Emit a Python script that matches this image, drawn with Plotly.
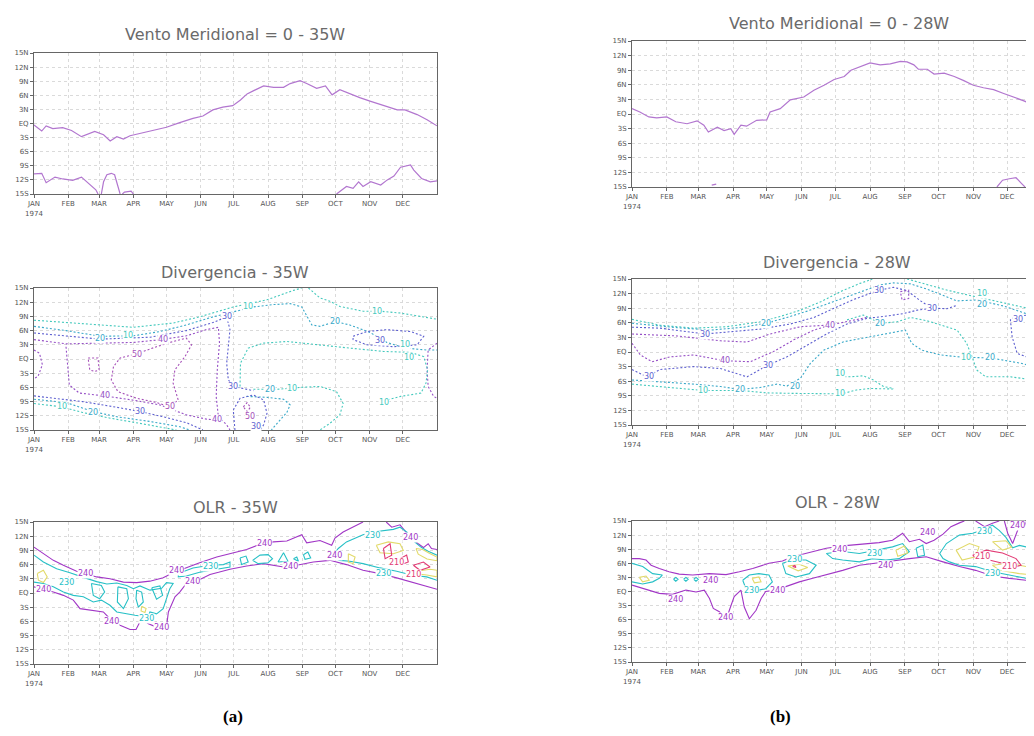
import plotly.graph_objects as go

# ---------------- axes / text data ----------------
MONTH_START = [0, 31, 59, 90, 120, 151, 181, 212, 243, 273, 304, 334]
MONTH_TEXT = ["JAN<br>1974", "FEB", "MAR", "APR", "MAY", "JUN", "JUL", "AUG", "SEP", "OCT", "NOV", "DEC"]
LAT_TICKS = [15, 12, 9, 6, 3, 0, -3, -6, -9, -12, -15]
LAT_TEXT = ["15N", "12N", "9N", "6N", "3N", "EQ", "3S", "6S", "9S", "12S", "15S"]
TITLES = ["Vento Meridional = 0 - 35W", "Divergencia - 35W", "OLR - 35W",
          "Vento Meridional = 0 - 28W", "Divergencia - 28W", "OLR - 28W"]
PANEL_TAGS = ["(a)", "(b)"]

# ---------------- meridional wind = 0 line (day of year, latitude) ----------------
VM35_LINES = [
    [(0, -0.3), (7, -1.6), (11, -0.5), (17, -1.1), (26, -0.9), (34, -1.5), (43, -2.8), (55, -1.7), (63, -2.4),
     (69, -3.7), (75, -2.8), (81, -3.3), (87, -2.6), (96, -2.1), (108, -1.4), (120, -0.8), (132, 0.2), (144, 1.1),
     (153, 1.6), (162, 2.9), (171, 3.5), (180, 3.8), (187, 5.0), (193, 6.3), (199, 7.0), (208, 8.0), (217, 7.7),
     (226, 7.7), (232, 8.5), (241, 9.1), (247, 8.5), (256, 7.5), (264, 8.0), (270, 6.1), (277, 7.2), (286, 6.3),
     (295, 5.5), (305, 4.7), (317, 3.8), (329, 2.9), (336, 2.9), (347, 1.9), (356, 0.8), (365, -0.5)],
    [(0, -10.7), (7, -10.6), (11, -12.6), (19, -11.4), (26, -11.8), (35, -12.1), (43, -11.4), (51, -13.1),
     (56, -14.1), (58, -15)],
    [(61, -15), (63, -12.4), (66, -10.9), (70, -10.6), (73, -10.9), (76, -13.3), (78, -15)],
    [(80, -15), (82, -14.6), (88, -14.4), (90, -15)],
    [(274, -15), (283, -13.4), (289, -13.8), (294, -12.4), (298, -13.4), (305, -12.4), (314, -13.1), (320, -12.0),
     (326, -11.2), (332, -9.3), (341, -8.8), (344, -9.9), (351, -11.7), (359, -12.4), (365, -12.2)],
]
VM28_LINES = [
    [(0, 1.1), (7, 0.4), (15, -0.6), (22, -0.8), (31, -0.6), (39, -1.6), (49, -2.0), (58, -1.4), (64, -2.3),
     (68, -3.7), (76, -2.7), (82, -3.4), (88, -3.0), (91, -4.2), (97, -2.3), (102, -2.5), (111, -1.3), (120, -1.2),
     (123, 0.4), (132, 1.1), (141, 2.9), (153, 3.5), (162, 4.9), (171, 5.9), (180, 7.1), (189, 7.7), (195, 9.0),
     (203, 9.7), (212, 10.5), (221, 10.1), (230, 10.3), (239, 10.8), (245, 10.7), (251, 10.1), (255, 9.2),
     (263, 9.2), (269, 8.2), (278, 8.4), (287, 7.7), (295, 6.9), (304, 5.9), (313, 5.4), (322, 5.0), (331, 4.2),
     (340, 3.5), (349, 2.7), (358, 1.8)],
    [(325, -15), (330, -13.6), (336, -13.3), (342, -13.1), (347, -14.3), (350, -15)],
    [(71, -14.6), (75, -14.4)],
]

# ---------------- divergence contours (level, path) ----------------
DIV35_LINES = [
    (10, [(0, 8.2), (44, 7.4), (90, 6.7), (126, 7.6), (150, 8.9), (180.5, 11.0), (211, 12.5), (235, 14.5), (242.5, 15)]),
    (10, [(248.6, 15), (259, 12.9), (268, 12.2), (277, 11.1), (298, 10.1), (313.6, 10.1), (332, 9.7), (350, 9.0), (365, 8.4)]),
    (20, [(0, 6.9), (29, 6.0), (60, 4.8), (90, 4.9), (114, 5.8), (138, 7.2), (162, 8.9), (186.6, 10.4), (198.7, 11.0),
          (217, 11.5), (232, 11.7), (242.5, 11.0), (247, 9.0), (251.6, 7.2), (259, 6.9), (273, 7.9), (286, 7.2),
          (304.5, 5.6), (319.6, 3.5), (336, 2.3), (356, 1.9), (365, 1.9)]),
    (30, [(289, 4.8), (301.5, 5.8), (319.6, 6.2), (341, 5.8), (353, 4.8), (347, 3.0), (325.7, 2.6), (301.5, 3.0),
          (289, 4.1), (289, 4.8)]),
    (40, [(365, 3.35), (357, 1.9), (356, -2.3), (357, -5.8), (362, -7.9), (365, -8.3)]),
    (10, [(186.6, -5.8), (187, -0.9), (194, 2.3), (208, 3.35), (229, 3.7), (256, 3.0), (286, 2.3), (316.6, 1.6),
          (341, 1.4), (353, 0.5), (356.5, -2.3), (355, -5.1), (350.5, -7.2), (332, -7.9), (313.6, -9.0)]),
    (10, [(198.7, -6.4), (220, -6.4), (241, -6.0), (259, -5.8), (274, -6.9), (280, -9.4), (277, -11.8), (268, -13.6), (259, -15)]),
    (20, [(192.6, -7.9), (211, -8.1), (226, -8.5), (232, -9.7), (229, -11.3), (223, -12.9), (215, -15)]),
    (30, [(0, 5.5), (29, 4.8), (60, 4.2), (105, 4.6), (138, 6.0), (162, 7.7), (174.5, 8.9), (177.5, 6.2), (176, 2.6),
          (174.5, -0.9), (176, -4.4), (180.5, -5.8), (198.7, -6.7)]),
    (40, [(0, 4.1), (29, 3.2), (60, 3.35), (90, 3.5), (115.5, 4.1), (138, 4.9), (156, 6.2), (167, 6.7), (168, 3.35),
          (166, -2.3), (165, -7.9), (167, -12.2), (174.5, -13.9), (177.5, -15)]),
    (40, [(29, 2.6), (31, -2.3), (32, -5.5), (41, -7.2), (64, -7.8), (90, -8.7), (114, -9.7), (138, -11.8), (156, -12.7), (165, -12.9)]),
    (50, [(93, 1.1), (78, 0.2), (72, -1.6), (70, -4.4), (76, -6.9), (93, -8.3), (111, -9.2), (123, -10.1), (130.6, -8.65),
          (126, -5.1), (127.6, -2.3), (136.7, 0.5), (142.7, 3.0), (138, 4.4), (126, 3.7), (111, 2.6), (93, 1.1)]),
    (50, [(49, 0.2), (58, 0.2), (59, -2.3), (55, -2.65), (50.5, -2.3), (49, 0.2)]),
    (40, [(0, 1.9), (5, 1.2), (7.6, -1.2), (3.6, -3.7), (0, -4.1)]),
    (10, [(0, -9.4), (25, -10.1), (44, -11.3), (69, -12.5), (96, -13.6), (120, -14.65), (129, -15)]),
    (20, [(0, -8.5), (29, -9.2), (53.5, -11.1), (75, -12.2), (105, -13.2), (132, -14.3), (141, -15)]),
    (30, [(0, -7.8), (44, -9.0), (75, -10.2), (96, -11.1), (117, -12.2), (138, -13.45), (153, -15)]),
    (30, [(182, -15), (180.5, -10.8), (186.6, -8.3), (198.7, -7.6), (208, -8.65), (211, -11.5), (208, -13.9), (205, -15)]),
    (50, [(189.6, -10.1), (193, -9.2), (196, -10.2), (193, -11.1), (189.6, -10.1)]),
]
DIV35_LABELS = [(85, 4.9, 10), (60, 4.4, 20), (117, 4.1, 40), (93, 0.9, 50), (174.5, 8.9, 30), (194, 11.0, 10),
                (273, 7.9, 20), (310.6, 10.1, 10), (313.6, 3.85, 30), (336, 3.0, 10), (340, 0.4, 10),
                (180, -5.8, 30), (214, -6.4, 20), (233.5, -6.2, 10), (316.6, -9.1, 10), (64, -7.8, 40),
                (123, -10.1, 50), (166, -12.75, 40), (96, -11.1, 30), (53.5, -11.3, 20), (25, -10.1, 10),
                (196, -12.1, 50), (201, -14.3, 30)]

DIV28_LINES = [
    (10, [(0, 6.7), (25, 5.5), (55, 4.9), (84.6, 5.2), (114, 6.2), (132, 7.3), (150, 8.6), (168, 10.3), (185.6, 12.4),
          (203, 14.1), (212, 14.8), (214, 15)]),
    (10, [(245, 15), (263, 13.8), (277.6, 12.9), (292.5, 12.05), (311.8, 11.0), (331, 10.1), (352, 9.0), (358, 8.6)]),
    (20, [(0, 5.9), (40, 5.0), (70, 4.5), (99.5, 5.1), (119, 5.9), (138, 7.1), (156, 8.4), (174, 9.9), (191.5, 11.5),
          (209, 12.9), (221, 13.8), (233, 14.2), (248, 14.0), (263, 12.9), (277.6, 11.5), (289.5, 10.5), (307, 10.7),
          (331, 9.45), (352, 7.8), (358, 7.1)]),
    (30, [(0, 5.1), (25, 4.9), (65, 3.7), (90.6, 4.2), (114, 4.7), (141, 5.75), (162, 7.1), (180, 9.0), (197.5, 10.8),
          (220, 12.7), (233, 13.3), (245, 12.6), (257, 10.5), (267, 9.0), (280.6, 8.9), (289.5, 9.6)]),
    (30, [(0, -3.6), (13.4, -5.1), (25, -3.6), (55, -3.0), (78.7, -3.4), (102.4, -5.1), (111, -4.0), (121, -2.7),
          (138, -1.0), (156, 1.4), (174, 3.8), (191.5, 5.75), (209, 6.9), (227, 7.4), (242, 7.9), (254, 8.6), (267, 9.0)]),
    (40, [(0, 3.7), (40, 3.3), (78.7, 2.3), (102.4, 2.05), (123, 3.7), (150, 5.2), (176.7, 5.55), (194.5, 6.4), (209, 7.1)]),
    (40, [(0, 1.8), (7.4, -0.6), (17.8, -2.0), (34, -1.0), (55, -0.6), (82.5, -1.8), (105.4, -2.0), (126, 0.1),
          (144, 2.5), (162, 4.5), (176.7, 5.55)]),
    (40, [(239, 12.4), (246.4, 12.7), (246.4, 11.0), (240.5, 10.7), (239, 12.4)]),
    (30, [(358, 7.4), (352, 7.6), (340, 7.1), (337, 6.6), (338.5, 3.15), (343, -0.3), (355, -1.3), (358, -1.5)]),
    (40, [(358, 3.3), (354, 2.5), (355, 1.2), (358, 1.0)]),
    (20, [(0, -5.75), (25, -6.1), (55, -6.6), (79, -7.1), (96, -7.7), (114, -7.3), (129, -6.6), (138, -7.0), (150, -5.4),
          (159, -2.3), (171, 0.4), (188.5, 2.1), (212, 3.15), (236, 4.2), (243.5, 4.5), (249, 1.8), (258, 0.4),
          (274.6, -0.6), (295.4, -1.1), (319, -1.2), (346, -2.3), (358, -3.0)]),
    (10, [(191.5, 6.6), (206, 7.6), (221, 5.9), (236, 6.2), (248, 7.1), (263, 6.4), (289.5, 4.5), (298, 1.8),
          (303, -1.1), (307, -3.7), (315, -5.1), (337, -5.1), (358, -5.75)]),
    (10, [(185.6, -5.1), (194.5, -5.1), (206, -4.9), (215, -5.75), (224, -7.1), (233, -7.5)]),
    (10, [(188.5, -8.5), (200, -7.8), (212, -7.5), (227, -7.6), (233, -7.6)]),
    (10, [(0, -6.6), (25, -7.1), (63, -7.9), (96.5, -7.9), (120, -8.4), (144, -8.5), (168, -8.6), (185.6, -8.6)]),
]
DIV28_LABELS = [(65, 3.5, 30), (119, 5.9, 20), (176.7, 5.5, 40), (82.5, -1.8, 40), (121, -2.7, 30), (15, -5.1, 30),
                (63, -7.9, 10), (96, -7.8, 20), (145, -7.0, 20), (185.6, -4.4, 10), (185.6, -8.5, 10),
                (220, 12.7, 30), (267, 9.0, 30), (311.8, 12.0, 10), (311.8, 9.7, 20), (344, 6.6, 30),
                (221, 5.9, 20), (297, -1.1, 10), (319, -1.1, 20)]

# ---------------- OLR contours (level, path) ----------------
OLR35_LINES = [
    (240, [(0, 9.7), (8.5, 8.3), (17.5, 6.9), (26.6, 5.85), (38.6, 4.6), (56.8, 3.4), (68.8, 3.0), (81, 2.3), (93, 2.2),
           (105, 2.5), (117, 3.2), (126, 4.3), (135, 5.1), (150, 6.4), (165.5, 7.6), (177.5, 8.3), (192.6, 9.2),
           (204.7, 10.3), (216.8, 10.8), (229, 11.0), (238, 11.8), (242.5, 12.3), (247, 10.6), (259, 11.1),
           (269.6, 10.1), (272.6, 11.6), (280, 12.9), (289, 13.9), (298, 15)]),
    (240, [(319, 15), (324, 13.9), (331.5, 14.4), (340.6, 11.8), (348, 10.4), (352.7, 9.6), (357, 10.4), (360, 9.4), (365, 9.2)]),
    (240, [(0, 1.3), (8.5, 0.8), (17.5, 0.2), (26.6, -0.5), (35.6, -1.5), (41.7, -3.3), (50.7, -3.65), (62.8, -4.0),
           (70.3, -5.8), (77.9, -6.8), (87, -7.7), (92.4, -7.7), (97.5, -5.4), (103.6, -6.5), (111, -7.2), (120, -7.2),
           (121.7, -4.0), (124.7, -2.25), (127.7, -0.8), (132, 0.2), (138, 2.0), (147, 2.5), (159.4, 3.9), (177.5, 5.0),
           (192.6, 5.7), (207.7, 6.2), (226, 5.5), (238, 5.85), (253, 6.55), (268, 6.9), (283, 6.0), (298, 4.8),
           (313.4, 4.1), (328.5, 3.2), (343.6, 2.2), (358.7, 1.1), (365, 0.8)]),
    (230, [(0, 8.0), (8.5, 6.55), (20.5, 5.1), (32.6, 4.3), (44.7, 3.3), (56.8, 2.4), (66, 1.9), (75, 2.1), (84, 1.6),
           (90, 0.9), (96, 1.5), (105, 0.6), (115.6, 1.0), (120, 2.2), (126, 2.0), (123, 0.9), (120, -1.2), (117, -3.3),
           (111, -4.4), (105, -4.0), (102, -5.8), (97.5, -4.9), (91.5, -4.7), (84, -4.4), (75, -4.0), (68.8, -2.6),
           (61, -1.5), (53.7, -1.9), (44.7, -0.8), (35.6, -0.5), (26.6, 0.2), (17.5, 1.3), (8.5, 2.0), (0, 2.3)]),
    (230, [(52, 2.0), (61, 1.6), (64, 0.2), (59.5, -1.2), (53.7, -0.5), (52, 2.0)]),
    (230, [(76, 1.3), (84, 0.9), (85.5, -1.2), (81, -3.3), (75.5, -1.9), (76, 1.3)]),
    (230, [(93, 0.6), (97.5, 0.2), (99, -1.9), (94.5, -3.0), (92.4, -1.2), (93, 0.6)]),
    (230, [(106.6, 1.1), (114, 1.5), (116.5, -0.5), (111, -1.3), (106.6, 1.1)]),
    (230, [(130.7, 4.1), (144, 5.3), (159.4, 5.85), (171.5, 6.0), (177.5, 6.55), (177.5, 5.5), (165.5, 5.0), (150, 4.4),
           (138, 3.6), (130.7, 3.4), (130.7, 4.1)]),
    (230, [(186.6, 7.4), (192, 7.8), (194, 6.55), (188, 6.0), (186.6, 7.4)]),
    (230, [(198, 6.9), (204.7, 8.0), (212, 8.1), (216, 7.25), (212, 6.4), (203, 6.2), (198, 6.9)]),
    (230, [(221, 6.55), (226, 8.5), (230, 6.7), (221, 6.55)]),
    (230, [(235, 7.25), (238, 7.6), (239.5, 6.7), (235, 7.25)]),
    (230, [(244, 8.1), (248, 8.65), (250.6, 7.4), (245.5, 7.1), (244, 8.1)]),
    (230, [(365, 2.7), (355.7, 3.4), (343.6, 3.7), (328.5, 4.6), (313.4, 5.3), (298, 6.2), (286, 6.7), (277, 6.9),
           (269.6, 7.6), (275.6, 9.4), (283, 10.8), (292, 11.8), (298, 12.3), (307, 12.9), (316, 13.2), (325.5, 13.45),
           (331.5, 13.9), (338, 12.8), (343.6, 11.0), (351, 9.6), (357, 8.8), (365, 8.0)]),
    (220, [(3, 4.1), (8.5, 4.8), (12, 3.4), (8.5, 2.2), (4, 2.7), (3, 4.1)]),
    (220, [(97.5, -2.8), (101.5, -3.3), (100.5, -4.1), (97, -3.8), (97.5, -2.8)]),
    (220, [(284.7, 8.3), (290.8, 7.6), (289, 6.2), (284.7, 6.55), (284.7, 8.3)]),
    (220, [(310, 10.1), (320.9, 10.8), (331.5, 10.4), (334.5, 9.0), (325.5, 8.3), (313.4, 8.5), (310, 10.1)]),
    (220, [(346, 9.4), (352, 9.2), (358, 8.4), (365, 7.6), (365, 6.8), (356, 7.2), (348, 8.2), (346, 9.4)]),
    (220, [(346.6, 4.6), (358.7, 5.0), (365, 4.8), (365, 3.4), (355.7, 3.8), (348, 4.0), (346.6, 4.6)]),
    (210, [(316.5, 9.4), (322.5, 10.4), (324, 8.0), (318, 7.25), (316.5, 9.4)]),
    (210, [(331.5, 7.25), (337.5, 8.0), (339, 6.55), (333, 6.0), (331.5, 7.25)]),
    (210, [(343.6, 5.85), (352.7, 6.55), (358.7, 5.5), (349.6, 4.8), (343.6, 5.85)]),
]
OLR35_LABELS = [(47, 4.2, 240), (8.5, 0.8, 240), (70.3, -6.0, 240), (115.6, -7.2, 240), (29.6, 2.3, 230),
                (102, -5.4, 230), (144, 2.4, 240), (129, 4.8, 240), (159.4, 5.5, 230), (209, 10.5, 240),
                (232, 5.6, 240), (272.6, 8.0, 240), (307, 12.2, 230), (340.6, 11.8, 240), (328.5, 6.55, 210),
                (316.5, 4.1, 230), (343.6, 3.9, 210)]

OLR28_LINES = [
    (240, [(0, 7.0), (6.5, 7.0), (12.5, 6.7), (17, 5.6), (24.3, 4.9), (33, 4.2), (42, 3.7), (54, 3.5), (69, 3.8),
           (83.7, 3.6), (95.6, 4.2), (107.5, 4.9), (122, 6.0), (134, 6.5), (143, 7.4), (161, 8.5), (173, 9.2),
           (187.6, 9.7), (202.5, 10.0), (220, 10.4), (232, 10.9), (241, 12.4), (247, 10.6), (256, 11.1), (262, 10.2),
           (269, 10.9), (277, 12.2), (284, 13.8), (291.6, 14.6), (296, 15)]),
    (240, [(306, 15), (314, 13.8), (321, 14.5), (327, 15)]),
    (240, [(331.6, 15), (334.6, 12.4), (339, 10.2), (343.5, 13.1), (346.5, 15)]),
    (240, [(349.5, 15), (352.5, 13.4), (358, 12.4)]),
    (240, [(0, 1.35), (6.5, 0.85), (15.4, 0.3), (24.3, -0.4), (36, -0.6), (48, 0.3), (57, -0.1), (64.4, 0.3), (69, -1.5),
           (72.4, -3.6), (77.8, -4.3), (83.7, -6.1), (86.7, -4.0), (91, -1.1), (97, 0.3), (100, -3.3), (104.5, -5.8),
           (110.5, -4.0), (115, -1.5), (119, 0.0), (128, 0.3), (137, 1.0), (149, 2.05), (161, 2.8), (173, 3.5),
           (187.6, 4.5), (202.5, 5.6), (217, 6.0), (232, 6.5), (247, 7.0), (262, 7.4), (277, 6.3), (291.6, 5.3),
           (306, 4.5), (321, 3.3), (336, 2.8), (351, 2.4), (358, 1.35)]),
    (230, [(0, 6.0), (9.5, 5.3), (18.4, 3.8), (27, 3.5), (24.3, 2.8), (18.4, 2.05), (9.5, 1.6), (0, 2.05)]),
    (230, [(37, 2.6), (39, 3.0), (41, 2.6), (39, 2.2), (37, 2.6)]),
    (230, [(46, 2.6), (48, 3.0), (50, 2.6), (48, 2.2), (46, 2.6)]),
    (230, [(55, 2.6), (57, 3.0), (59, 2.6), (57, 2.2), (55, 2.6)]),
    (230, [(98.6, 2.4), (104.5, 3.5), (113, 3.8), (122, 3.5), (125, 2.05), (119, 0.6), (113, 0.3), (106, -0.1),
           (101.5, 0.6), (98.6, 2.4)]),
    (230, [(134, 6.0), (143, 6.7), (155, 6.7), (164, 5.6), (158, 3.8), (146, 3.1), (137, 3.8), (134, 6.0)]),
    (230, [(173, 8.1), (187.6, 8.5), (202.5, 8.1), (217, 8.8), (232, 9.5), (241, 10.2), (247, 8.5), (238, 7.0),
           (226, 6.7), (214, 7.0), (202.5, 6.3), (187.6, 6.7), (178.7, 7.0), (173, 8.1)]),
    (230, [(253, 9.2), (259, 9.9), (260.5, 7.7), (254.5, 7.4), (253, 9.2)]),
    (230, [(358, 2.05), (351, 2.8), (336, 3.5), (321, 4.2), (306, 5.3), (291.6, 5.6), (282.7, 6.3), (277, 7.0),
           (274, 8.1), (280, 10.2), (287, 11.3), (291.6, 12.0), (303.4, 12.4), (312, 13.1), (321, 14.1), (327, 13.0),
           (333, 11.5), (339, 9.3), (345, 9.8), (351, 9.5), (358, 10.6)]),
    (220, [(6.5, 3.0), (12.5, 3.3), (15.4, 2.4), (9.5, 2.05), (6.5, 3.0)]),
    (220, [(138.7, 5.4), (149, 5.8), (156.5, 5.1), (148, 4.4), (138.7, 5.4)]),
    (220, [(107, 2.8), (113, 3.1), (114.9, 2.05), (109, 1.85), (107, 2.8)]),
    (220, [(216, 8.5), (220, 9.0), (222, 7.4), (217, 7.4), (216, 8.5)]),
    (220, [(235, 8.8), (242.6, 9.7), (245.5, 8.2), (236.7, 7.5), (235, 8.8)]),
    (220, [(288.6, 8.8), (300.5, 10.2), (309, 9.5), (306, 7.4), (294, 6.7), (288.6, 8.8)]),
    (220, [(321, 5.6), (336, 6.0), (351, 5.3), (358, 4.9), (358, 3.5), (345, 3.8), (327.5, 4.5), (321, 5.6)]),
    (220, [(321, 10.6), (333, 10.8), (338, 9.4), (330, 8.8), (321, 10.6)]),
    (210, [(303.4, 7.7), (315.4, 8.8), (330, 8.2), (342, 7.0), (346.5, 5.6), (339, 5.1), (330, 6.0), (318, 6.7),
           (308, 6.8), (303.4, 7.7)]),
    (210, [(143, 5.3), (145, 5.6), (146, 5.1), (143, 5.3)]),
]
OLR28_LABELS = [(39, -1.7, 240), (83.7, -5.5, 240), (70, 2.4, 240), (130, 0.3, 240), (144.6, 6.8, 230),
                (184.7, 9.0, 240), (216, 8.1, 230), (263, 12.5, 240), (226, 5.6, 240), (314, 12.8, 230),
                (312, 7.4, 210), (336, 5.3, 210), (343, 14.0, 240), (321, 3.8, 230), (106, 0.3, 230)]

# ---------------- styles ----------------
VM_COLOR = "#b276cf"
DIV_COLORS = {10: "#45c9bd", 20: "#3aa9c9", 30: "#5d5fd0", 40: "#9650c6", 50: "#a54fb8"}
OLR_COLORS = {240: "#a136c6", 230: "#27c0c6", 220: "#e2da6a", 210: "#e23a74"}

# the page body adds an 8 px offset, so the figure covers window pixels 8..1034 x 8..736
OFF = 8
FIG_W, FIG_H = 1034 - OFF, 736 - OFF


def px_x(px):
    return (px - OFF) / FIG_W


def px_y(py):
    return 1 - (py - OFF) / FIG_H


LEFT_X = [px_x(34), px_x(437)]
RIGHT_X = [px_x(632), 1.0]
PANELS = [
    dict(xdom=LEFT_X, ydom=[px_y(194), px_y(53)], xmax=365, right=False, tx=235, ty=35),
    dict(xdom=LEFT_X, ydom=[px_y(430), px_y(288)], xmax=365, right=False, tx=235, ty=272),
    dict(xdom=LEFT_X, ydom=[px_y(664), px_y(522)], xmax=365, right=False, tx=235, ty=507),
    dict(xdom=RIGHT_X, ydom=[px_y(187), px_y(41)], xmax=358, right=True, tx=839, ty=23),
    dict(xdom=RIGHT_X, ydom=[px_y(425), px_y(279)], xmax=358, right=True, tx=837, ty=263),
    dict(xdom=RIGHT_X, ydom=[px_y(662), px_y(521)], xmax=358, right=True, tx=837, ty=502),
]

fig = go.Figure()
annotations = []


def ax(i):
    return ("x" if i == 1 else f"x{i}"), ("y" if i == 1 else f"y{i}")


def add_path(i, path, color, dash="solid", width=1.1):
    xa, ya = ax(i)
    fig.add_trace(go.Scatter(x=[p[0] for p in path], y=[p[1] for p in path], mode="lines",
                             line=dict(color=color, width=width, dash=dash), xaxis=xa, yaxis=ya,
                             hoverinfo="skip", showlegend=False))


def add_labels(i, labels, colors):
    xa, ya = ax(i)
    for d, lat, lev in labels:
        annotations.append(dict(x=d, y=lat, xref=xa, yref=ya, text=str(lev), showarrow=False,
                                font=dict(size=8, color=colors[lev], family="DejaVu Sans"),
                                bgcolor="white", borderpad=0))


for path in VM35_LINES:
    add_path(1, path, VM_COLOR, width=1.2)
for lev, path in DIV35_LINES:
    add_path(2, path, DIV_COLORS[lev], dash="2px,2px")
add_labels(2, DIV35_LABELS, DIV_COLORS)
for lev, path in OLR35_LINES:
    add_path(3, path, OLR_COLORS[lev])
add_labels(3, OLR35_LABELS, OLR_COLORS)

for path in VM28_LINES:
    add_path(4, path, VM_COLOR, width=1.2)
for lev, path in DIV28_LINES:
    add_path(5, path, DIV_COLORS[lev], dash="2px,2px")
add_labels(5, DIV28_LABELS, DIV_COLORS)
for lev, path in OLR28_LINES:
    add_path(6, path, OLR_COLORS[lev])
add_labels(6, OLR28_LABELS, OLR_COLORS)

layout = dict(width=FIG_W, height=FIG_H, margin=dict(l=0, r=0, t=0, b=0, pad=0, autoexpand=False),
              paper_bgcolor="white", plot_bgcolor="white", showlegend=False)
tickfont = dict(size=7, color="#555555", family="DejaVu Sans")
for i, p in enumerate(PANELS, start=1):
    xk = "xaxis" if i == 1 else f"xaxis{i}"
    yk = "yaxis" if i == 1 else f"yaxis{i}"
    xa, ya = ax(i)
    layout[xk] = dict(domain=p["xdom"], anchor=ya, range=[0, p["xmax"]], tickvals=MONTH_START, ticktext=MONTH_TEXT,
                      showgrid=True, gridcolor="#dadada", griddash="dot", gridwidth=1, zeroline=False,
                      showline=True, linecolor="#666666", linewidth=1, mirror=True, ticks="outside",
                      ticklen=3, tickcolor="#666666", tickfont=tickfont, fixedrange=True, automargin=False)
    layout[yk] = dict(domain=p["ydom"], anchor=xa, range=[-15, 15], tickvals=LAT_TICKS, ticktext=LAT_TEXT,
                      showgrid=True, gridcolor="#dadada", griddash="dot", gridwidth=1, zeroline=False,
                      showline=True, linecolor="#666666", linewidth=1, mirror=not p["right"], ticks="outside",
                      ticklen=3, tickcolor="#666666", tickfont=tickfont, fixedrange=True, automargin=False)
    annotations.append(dict(x=px_x(p["tx"]), y=px_y(p["ty"]), xref="paper", yref="paper", text=TITLES[i - 1],
                            showarrow=False, xanchor="center", yanchor="middle",
                            font=dict(size=16, color="#6a6a6a", family="DejaVu Sans")))

for tag, px in zip(PANEL_TAGS, [233, 780]):
    annotations.append(dict(x=px_x(px), y=px_y(716), xref="paper", yref="paper", text=f"<b>{tag}</b>",
                            showarrow=False, xanchor="center", yanchor="middle",
                            font=dict(size=17, color="black", family="Liberation Serif")))

layout["annotations"] = annotations
fig.update_layout(**layout)
fig.write_html("out.html")
